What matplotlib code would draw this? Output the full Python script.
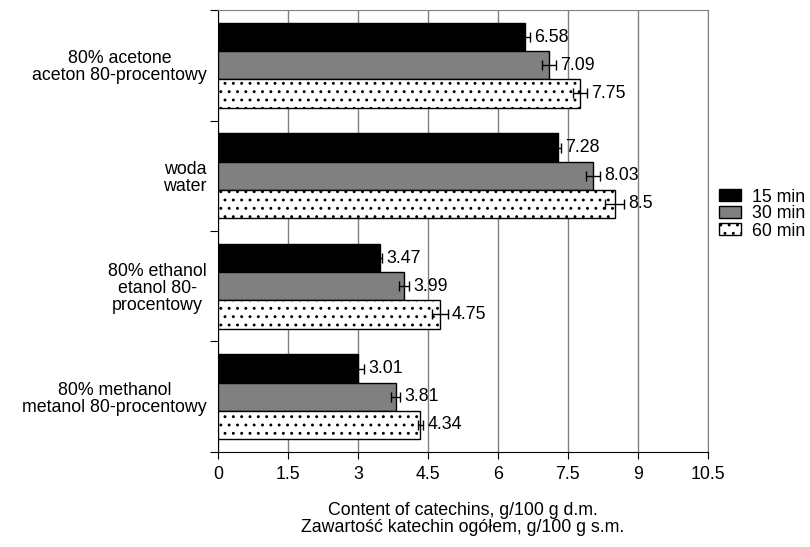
import matplotlib
matplotlib.use("Agg")
import matplotlib.pyplot as plt
import numpy as np

plt.rcParams['font.family'] = ['Liberation Sans', 'DejaVu Sans']
plt.rcParams['hatch.linewidth'] = 0.9
plt.rcParams['hatch.color'] = '#808080'

categories = ["80% acetone\naceton 80-procentowy", "woda\nwater",
              "80% ethanol\netanol 80-\nprocentowy", "80% methanol\nmetanol 80-procentowy"]
series = ["15 min", "30 min", "60 min"]
vals_15 = [6.58, 7.28, 3.47, 3.01]
vals_30 = [7.09, 8.03, 3.99, 3.81]
vals_60 = [7.75, 8.5, 4.75, 4.34]
err_15 = [0.1, 0.07, 0.05, 0.12]
err_30 = [0.15, 0.15, 0.1, 0.1]
err_60 = [0.15, 0.2, 0.17, 0.06]
xticks = [0, 1.5, 3, 4.5, 6, 7.5, 9, 10.5]
xlabels = ["0", "1.5", "3", "4.5", "6", "7.5", "9", "10.5"]

FS = 12.8
fig = plt.figure(figsize=(8.1, 5.47), dpi=100)
ax = fig.add_axes([0.269, 0.1737, 0.605, 0.808])

n = len(categories)
y = np.arange(n)
h = 0.255
styles = [dict(color='black', edgecolor='black'),
          dict(color='#808080', edgecolor='black'),
          dict(color='white', edgecolor='black', hatch='..')]
allv = [vals_15, vals_30, vals_60]
alle = [err_15, err_30, err_60]
for i, (vals, errs, st, lab) in enumerate(zip(allv, alle, styles, series)):
    pos = y - h + i * h
    ax.barh(pos, vals, height=h, linewidth=1, label=lab, zorder=3, **st)
    ax.errorbar(vals, pos, xerr=errs, fmt='none', ecolor='black', elinewidth=1,
                capsize=3.5, capthick=1, zorder=4)
    for v, e, p in zip(vals, errs, pos):
        ax.text(v + e + 0.09, p, f"{v:g}", va='center', ha='left', fontsize=FS, zorder=5)

ax.set_xlim(0, 10.5)
ax.set_ylim(n - 0.5, -0.5)
ax.set_xticks(xticks)
ax.set_xticklabels(xlabels, fontsize=FS)
ax.xaxis.grid(True, color='#808080', linewidth=1, zorder=0)
ax.set_yticks(np.arange(n + 1) - 0.5)
ax.set_yticklabels([])
ax.set_yticks(y, minor=True)
ax.set_yticklabels(categories, minor=True, fontsize=FS, ha='right')
ax.tick_params(axis='y', which='minor', length=0, pad=8)
ax.tick_params(axis='y', which='major', length=6, direction='out')
ax.tick_params(axis='x', length=5, direction='out', pad=5)
ax.spines['right'].set_color('#808080')
ax.spines['top'].set_color('#808080')
for lab in ax.get_yticklabels(minor=True):
    lab.set_multialignment('center')
    lab.set_linespacing(1.0)

xl = ax.set_xlabel("Content of catechins, g/100 g d.m.\nZawartość katechin ogółem, g/100 g s.m.",
                   fontsize=FS, labelpad=14, linespacing=1.0)

leg = fig.legend(loc='center left', bbox_to_anchor=(719 / 810, 1 - 214 / 547),
                 bbox_transform=fig.transFigure, frameon=False, fontsize=FS,
                 borderaxespad=0, borderpad=0,
                 handlelength=1.25, handleheight=0.68, handletextpad=0.6, labelspacing=0.0)

fig.savefig("out.png", dpi=100)
